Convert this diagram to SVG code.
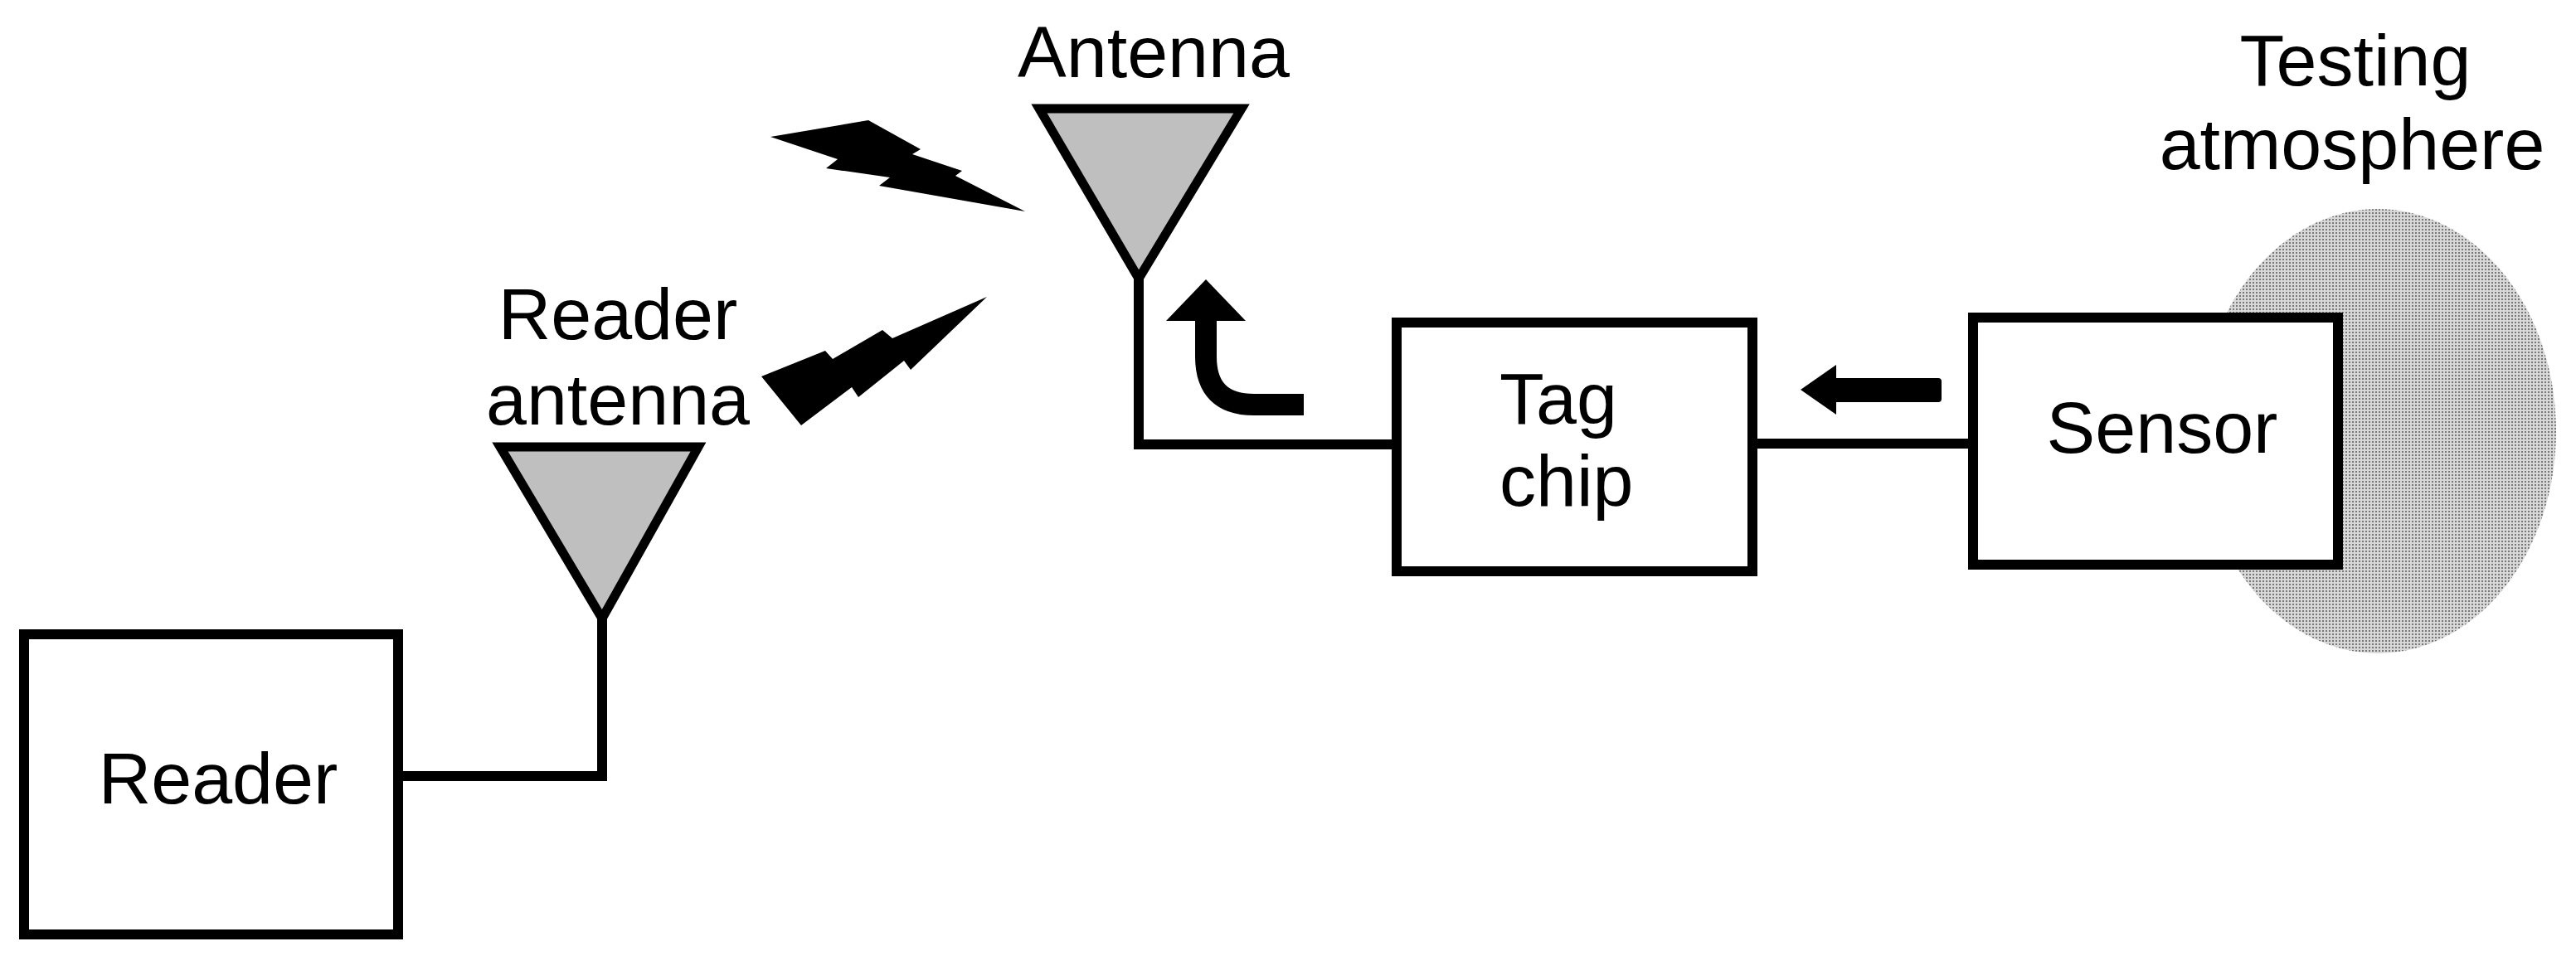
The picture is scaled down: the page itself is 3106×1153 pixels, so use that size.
<svg xmlns="http://www.w3.org/2000/svg" width="3106" height="1153" viewBox="0 0 3106 1153">
<style>
.box{fill:#fff;stroke:#000;stroke-width:12}
.ant{fill:#bfbfbf;stroke:#000;stroke-width:11;stroke-linejoin:miter}
.wire{fill:none;stroke:#000;stroke-width:12}
.lbl{font-family:"Liberation Sans",Arial,sans-serif;font-size:88px;fill:#000}
.bolt{fill:#000}
</style>
<defs>
<pattern id="dots" width="4" height="4" patternUnits="userSpaceOnUse">
<rect width="4" height="4" fill="#d8d8d8"/>
<rect width="2" height="2" fill="#777"/>
</pattern>
</defs>
<rect width="3106" height="1153" fill="#fff"/>
<g id="atmosphere">
<ellipse cx="2867" cy="520" rx="215" ry="268" fill="url(#dots)"/>
<text class="lbl" x="2840" y="103" text-anchor="middle">Testing</text>
<text class="lbl" x="2836" y="204" text-anchor="middle">atmosphere</text>
</g>
<g id="connectors">
<polyline class="wire" points="726,746 726,936 480,936"/>
<polyline class="wire" points="1373,334 1373,536 1684,536"/>
<line class="wire" x1="2112" y1="535" x2="2379" y2="535"/>
<path d="M929,165 L1047,145 L1110,180 L1100,186 L1160,206 L1152,212 L1236,255 L1060,224 L1073,214 L996,203 L1010,192 Z" class="bolt"/>
<path d="M918,454 L995,423 L1004,433 L1064,398 L1076,408 L1190,358 L1098,446 L1090,435 L1035,479 L1027,467 L966,513 Z" class="bolt"/>
<path d="M1454,380 L1454,430 Q1454,488 1512,488 L1572,488" fill="none" stroke="#000" stroke-width="26"/>
<polygon points="1454,337 1406,387 1502,387" fill="#000"/>
<rect x="2210" y="456" width="131" height="29" rx="4" fill="#000"/>
<polygon points="2171,470 2214,440 2214,500" fill="#000"/>
</g>
<g id="reader">
<rect class="box" x="29" y="765" width="451" height="362"/>
<text class="lbl" x="263" y="969" text-anchor="middle">Reader</text>
</g>
<g id="reader-antenna">
<polygon class="ant" points="603,539 842,539 726,746"/>
<text class="lbl" x="745" y="409" text-anchor="middle">Reader</text>
<text class="lbl" x="745" y="512" text-anchor="middle">antenna</text>
</g>
<g id="antenna">
<polygon class="ant" points="1253,131 1497,131 1373,336"/>
<text class="lbl" x="1391" y="93" text-anchor="middle">Antenna</text>
</g>
<g id="tag-chip">
<rect class="box" x="1684" y="389" width="429" height="300"/>
<text class="lbl" x="1808" y="511">Tag</text>
<text class="lbl" x="1808" y="610">chip</text>
</g>
<g id="sensor">
<rect class="box" x="2379" y="383" width="440" height="298"/>
<text class="lbl" x="2607" y="546" text-anchor="middle">Sensor</text>
</g>
</svg>
